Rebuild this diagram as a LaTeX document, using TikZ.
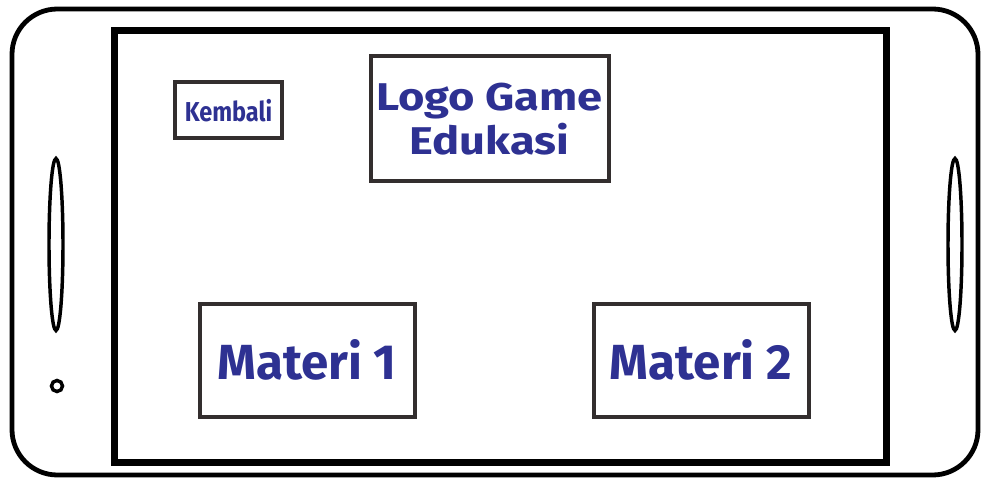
\documentclass[tikz,border=0pt]{standalone}
\usepackage{fontspec}
\setmainfont{Fira Sans}
\usepackage{tikz}
\definecolor{txtblue}{RGB}{46,49,146}
\definecolor{boxgray}{RGB}{51,46,46}

\begin{document}
\begin{tikzpicture}[x=0.75pt,y=0.75pt,yscale=-1,xscale=1,
    menubox/.style={draw=boxgray, line width=3pt, inner sep=0pt, text=txtblue, font=\bfseries, align=center}]
        \useasboundingbox (0,0) rectangle (982,481);
        % phone body
        \draw [line width=3.6pt, rounded corners=34pt]  (12,9) rectangle (978,475) ;
        \draw [line width=5.25pt]  (114,31) rectangle (886,462) ;
        % side buttons
        \draw [line width=2.6pt]  (56,244.5) ellipse (7 and 86) ;
        \draw [line width=2.6pt]  (955,244.5) ellipse (7 and 86) ;
        \draw [line width=2.6pt]  (57,386) circle (5.5) ;
        % screen items
        \node (kembali) [menubox, minimum width=80.5pt, minimum height=42pt] at (228.5,110.5) {\scalebox{0.86}[1]{\fontsize{20.5}{20.5}\selectfont Kembali}};
        \node (logo) [menubox, minimum width=178.5pt, minimum height=93.75pt] at (489.5,119) {\scalebox{1.17}[1]{\fontsize{29}{34}\selectfont Logo Game}\\[2pt]\scalebox{1.17}[1]{\fontsize{29}{34}\selectfont Edukasi}};
        \node (materi1) [menubox, minimum width=161.25pt, minimum height=84.75pt] at (307,360) {\fontsize{37}{37}\selectfont Materi 1};
        \node (materi2) [menubox, minimum width=161.25pt, minimum height=84.75pt] at (701,360) {\fontsize{37}{37}\selectfont Materi 2};
    \end{tikzpicture}
\end{document}
